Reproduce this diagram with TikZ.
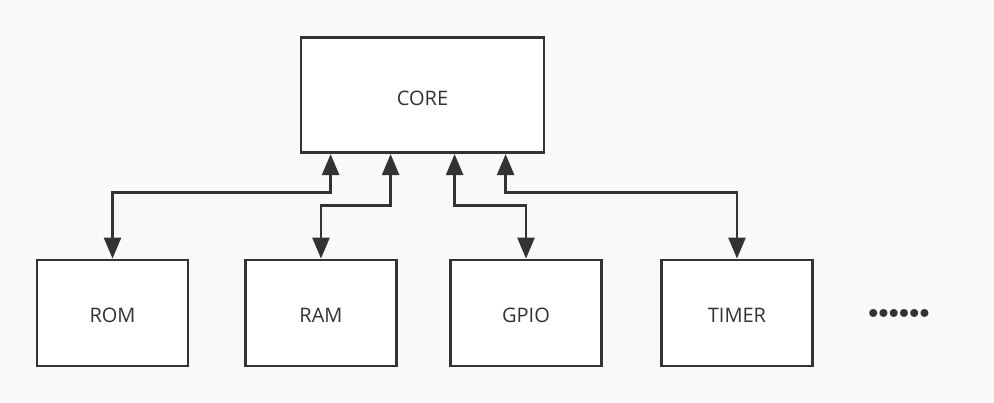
\documentclass[tikz,border=0pt]{standalone}
\usepackage{fontspec}
\setmainfont{Open Sans}
\newfontfamily\dotfont[LetterSpace=-21]{DejaVu Sans}
\usetikzlibrary{arrows.meta}
\definecolor{ink}{HTML}{333333}
\definecolor{bg}{HTML}{F9F9F9}
\begin{document}
\begin{tikzpicture}[x=1pt,y=-1pt,
  blk/.style={draw=ink,line width=2.8pt,fill=white,inner sep=0pt,text=ink,
    font=\fontsize{20}{24}\selectfont,text height=20pt,text depth=0pt},
  conn/.style={draw=ink,line width=2.6pt,{Triangle[length=21pt,width=17pt]}-{Triangle[length=21pt,width=17pt]}}]
\fill[bg] (0,0) rectangle (994,403);
\useasboundingbox (0,0) rectangle (994,403);
\node[blk,minimum width=243pt,minimum height=115pt] (core) at (422.5,95.2) {CORE};
\node[blk,minimum width=151pt,minimum height=106pt] (rom) at (112.5,313) {ROM};
\node[blk,minimum width=151pt,minimum height=106pt] (ram) at (321,313) {RAM};
\node[blk,minimum width=151pt,minimum height=106pt] (gpio) at (526,313) {GPIO};
\node[blk,minimum width=151pt,minimum height=106pt] (timer) at (737,313) {TIMER};
\node[text=ink,font=\dotfont\fontsize{27}{30}\selectfont,inner sep=0pt] (dots) at (899,317) {••••••};
\draw[conn] (rom.north) -- ++(0,-66) -| ([xshift=31pt]core.south west);
\draw[conn] (ram.north) -- ++(0,-53) -| ([xshift=91pt]core.south west);
\draw[conn] (gpio.north) -- ++(0,-53) -| ([xshift=155pt]core.south west);
\draw[conn] (timer.north) -- ++(0,-66) -| ([xshift=206pt]core.south west);
\end{tikzpicture}
\end{document}
